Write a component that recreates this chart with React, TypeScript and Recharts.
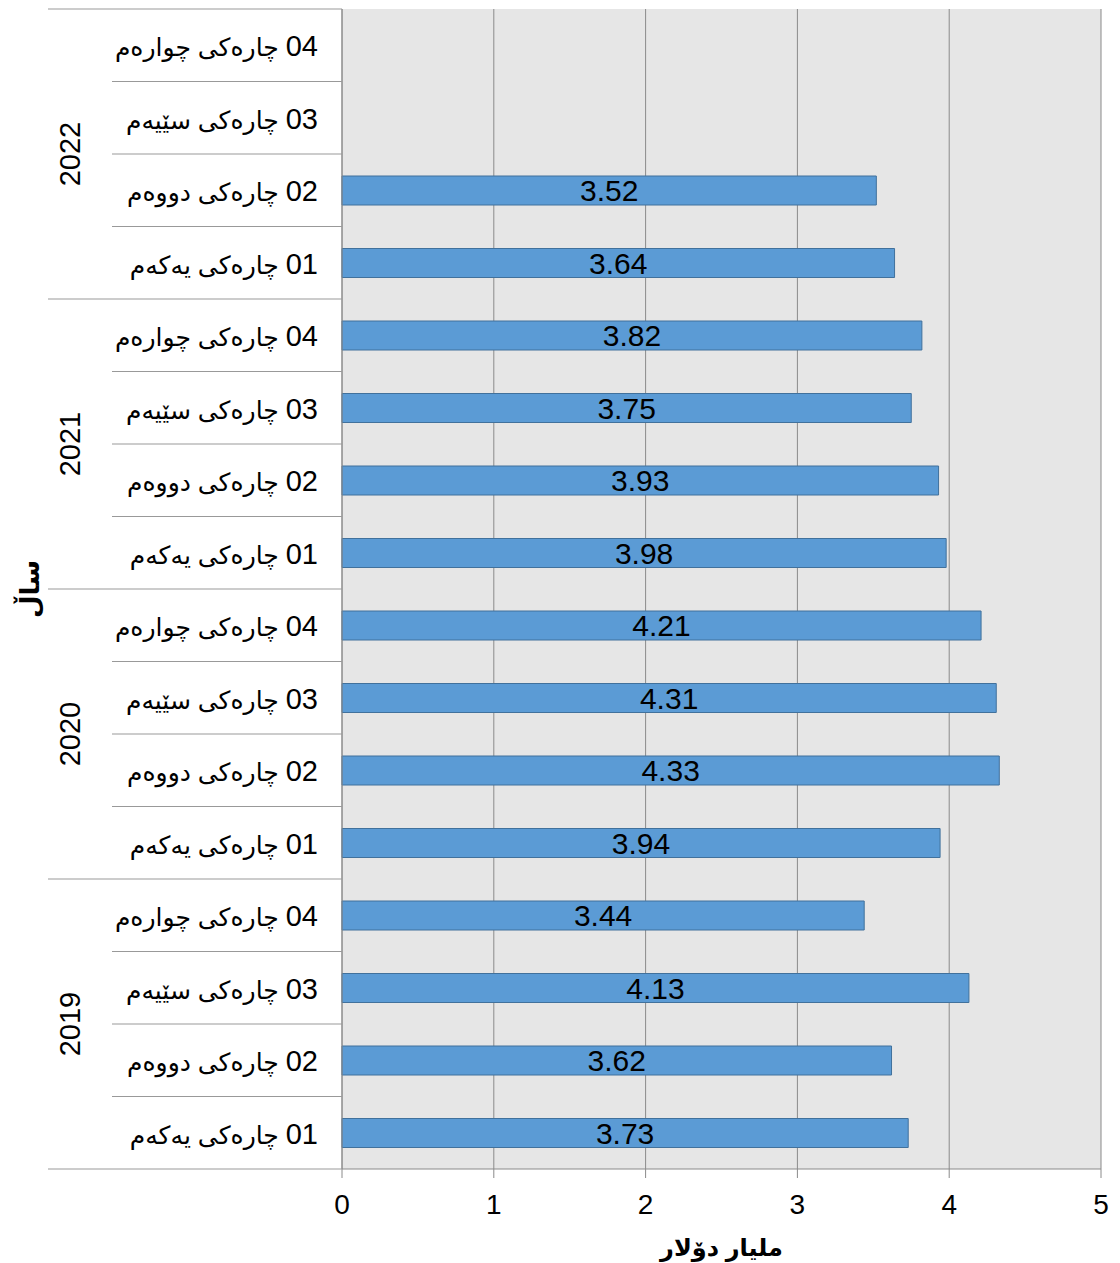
import { BarChart, Bar, XAxis, YAxis, CartesianGrid, LabelList, Label } from 'recharts';

const years = ['2022', '2021', '2020', '2019'];
const quarterNums = ['04', '03', '02', '01'];
const quarterNames = ['چارەکی چوارەم', 'چارەکی سێیەم', 'چارەکی دووەم', 'چارەکی یەکەم'];
const values2022 = [null, null, 3.52, 3.64];
const values2021 = [3.82, 3.75, 3.93, 3.98];
const values2020 = [4.21, 4.31, 4.33, 3.94];
const values2019 = [3.44, 4.13, 3.62, 3.73];
const valueTicks = [0, 1, 2, 3, 4, 5];

const yearValues = [values2022, values2021, values2020, values2019];

const data = years.flatMap((year, yi) =>
  quarterNums.map((num, qi) => ({
    key: `${year}-${num}`,
    year,
    num,
    name: quarterNames[qi],
    value: yearValues[yi][qi],
  }))
);

const FONT = '"Liberation Sans", Arial, "DejaVu Sans", sans-serif';
const W = 1112;
const H = 1256;
const TOP = 1;
const AXIS_W = 334;
const X_AXIS_H = 95;
const PLOT_H = H - TOP - X_AXIS_H;
const BAND = PLOT_H / data.length;
const LINE = '#999999';

const QuarterTick = (props: any) => {
  const { y, payload } = props;
  const i = data.findIndex((d) => d.key === payload.value);
  if (i < 0) return null;
  const d = data[i];
  const last = i % 4 === 3;
  return (
    <g>
      {i === 0 && <line x1={40} x2={AXIS_W} y1={y - BAND / 2} y2={y - BAND / 2} stroke={LINE} />}
      <line x1={last ? 40 : 104} x2={AXIS_W} y1={y + BAND / 2} y2={y + BAND / 2} stroke={LINE} />
      <text x={310} y={y + 11} textAnchor="end" fontFamily={FONT} fill="#000">
        <tspan fontSize={25}>{`${d.name} `}</tspan>
        <tspan fontSize={29}>{`\u200E${d.num}`}</tspan>
      </text>
      {i % 4 === 1 && (
        <text
          x={62}
          y={y + BAND / 2}
          textAnchor="middle"
          dy="0.36em"
          fontSize={29}
          fontFamily={FONT}
          fill="#000"
          transform={`rotate(-90 62 ${y + BAND / 2})`}
        >
          {d.year}
        </text>
      )}
    </g>
  );
};

export default function App() {
  return (
    <BarChart
      width={W}
      height={H}
      data={data}
      layout="vertical"
      margin={{ top: TOP, right: 19, bottom: 0, left: 0 }}
    >
      <CartesianGrid horizontal={false} stroke="#8a8a8a" fill="#e6e6e6" />
      <XAxis
        type="number"
        domain={[0, 5]}
        ticks={valueTicks}
        height={X_AXIS_H}
        stroke="#8a8a8a"
        tickSize={9}
        tickMargin={16}
        tick={{ fill: '#000', fontSize: 28, fontFamily: FONT }}
      >
        <Label
          value="ملیار دۆلار"
          position="insideBottom"
          offset={8}
          style={{ fill: '#000', fontSize: 24, fontWeight: 'bold', fontFamily: FONT }}
        />
      </XAxis>
      <YAxis
        type="category"
        dataKey="key"
        width={AXIS_W}
        stroke="#8a8a8a"
        tickLine={false}
        interval={0}
        tick={<QuarterTick />}
      >
        <Label
          content={() => (
            <text
              x={22}
              y={TOP + PLOT_H / 2}
              textAnchor="middle"
              dy="0.36em"
              fontSize={26}
              fontWeight="bold"
              fontFamily={FONT}
              fill="#000"
              transform={`rotate(-90 22 ${TOP + PLOT_H / 2})`}
            >
              ساڵ
            </text>
          )}
        />
      </YAxis>
      <Bar dataKey="value" fill="#5b9bd5" stroke="#41719c" strokeWidth={1} barSize={29} isAnimationActive={false}>
        <LabelList
          dataKey="value"
          position="center"
          fill="#000"
          fontSize={30}
          fontFamily={FONT}
          formatter={(v: any) => (v == null ? '' : Number(v).toFixed(2))}
        />
      </Bar>
    </BarChart>
  );
}
